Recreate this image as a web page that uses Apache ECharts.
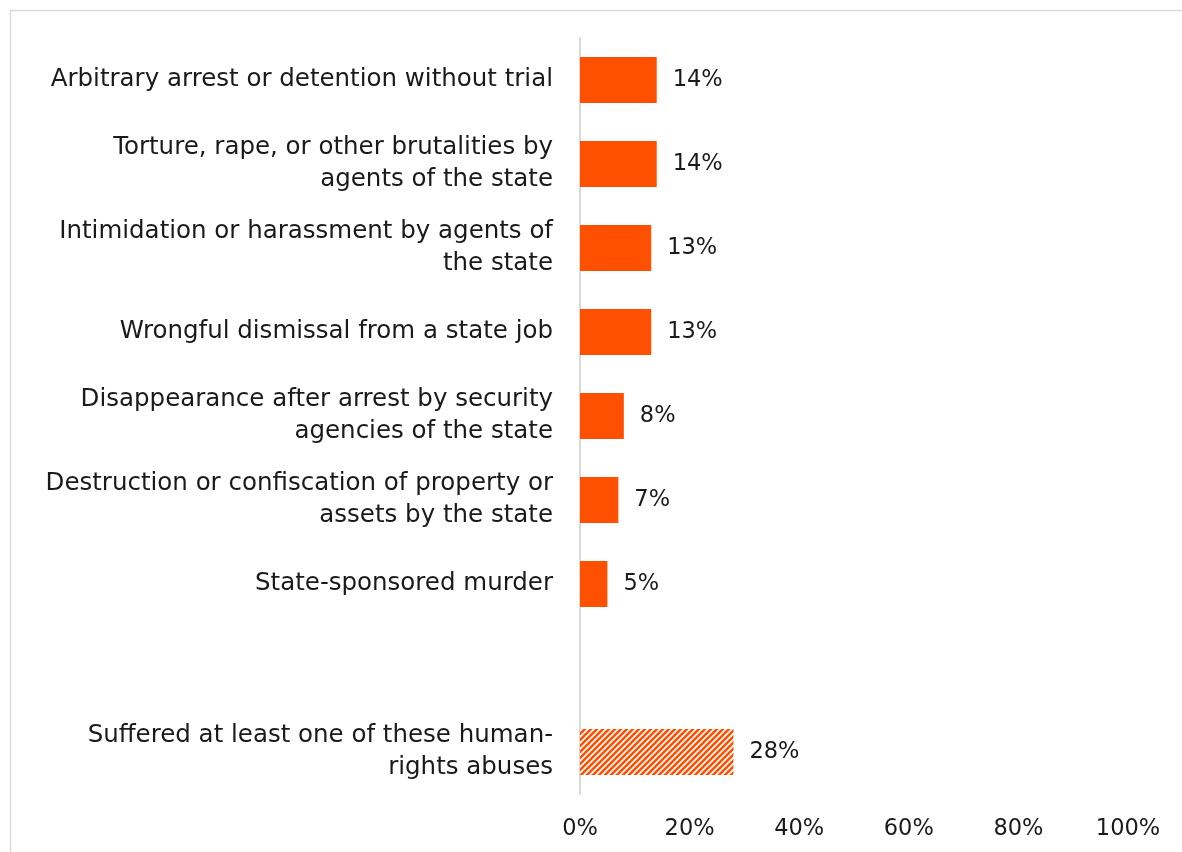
<!DOCTYPE html>
<html><head><meta charset="utf-8">
<script src="https://cdn.jsdelivr.net/npm/echarts@6/dist/echarts.min.js"></script>
<style>html,body{margin:0;padding:0;background:#fff}#c{width:1182px;height:852px}</style>
</head><body><div id="c"></div>
<script>
const categories = [
  'Arbitrary arrest or detention without trial',
  'Torture, rape, or other brutalities by\nagents of the state',
  'Intimidation or harassment by agents of\nthe state',
  'Wrongful dismissal from a state job',
  'Disappearance after arrest by security\nagencies of the state',
  'Destruction or confiscation of property or\nassets by the state',
  'State-sponsored murder',
  '',
  'Suffered at least one of these human-\nrights abuses'
];
const values = [14, 14, 13, 13, 8, 7, 5, null, 28];
const tickValues = [0, 20, 40, 60, 80, 100];

const FONT = 'DejaVu Sans';
const ORANGE = '#FF5000';

function hatch() {
  const s = 6;
  const cv = document.createElement('canvas');
  cv.width = s; cv.height = s;
  const ctx = cv.getContext('2d');
  ctx.fillStyle = '#ffffff';
  ctx.fillRect(0, 0, s, s);
  ctx.strokeStyle = ORANGE;
  ctx.lineWidth = 2.6;
  ctx.beginPath();
  ctx.moveTo(-s, s * 2); ctx.lineTo(s * 2, -s);
  ctx.moveTo(-s, s); ctx.lineTo(s, -s);
  ctx.moveTo(0, s * 2); ctx.lineTo(s * 2, 0);
  ctx.stroke();
  return cv;
}
const pattern = { image: hatch(), repeat: 'repeat' };

const chart = echarts.init(document.getElementById('c'));
chart.setOption({
  animation: false,
  backgroundColor: '#ffffff',
  graphic: [{
    type: 'rect', left: 8, top: 8, silent: true,
    shape: { width: 1300, height: 1000 },
    style: { fill: 'none', stroke: '#d9d9d9', lineWidth: 1.5 }
  }],
  grid: { left: 580, right: 54, top: 38, bottom: 58, containLabel: false },
  xAxis: {
    type: 'value', min: 0, max: 100, interval: 20,
    axisLine: { show: false }, axisTick: { show: false }, splitLine: { show: false },
    axisLabel: { formatter: v => tickValues.includes(v) ? v + '%' : '', color: '#1a1a1a', fontSize: 22.5, fontFamily: FONT, margin: 24 }
  },
  yAxis: {
    type: 'category', data: categories, inverse: true,
    axisLine: { show: true, lineStyle: { color: '#d9d9d9', width: 2 } },
    axisTick: { show: false },
    axisLabel: { color: '#1a1a1a', fontSize: 24.5, fontFamily: FONT, margin: 27, lineHeight: 32, align: 'right' }
  },
  series: [{
    type: 'bar', barWidth: 46,
    data: values.map((v, i) => v == null ? '-' : (i === values.length - 1 ? { value: v, itemStyle: { color: pattern } } : v)),
    itemStyle: { color: ORANGE },
    label: { show: true, position: 'right', distance: 16, formatter: p => p.value + '%', color: '#1a1a1a', fontSize: 22.5, fontFamily: FONT }
  }]
});
</script></body></html>
